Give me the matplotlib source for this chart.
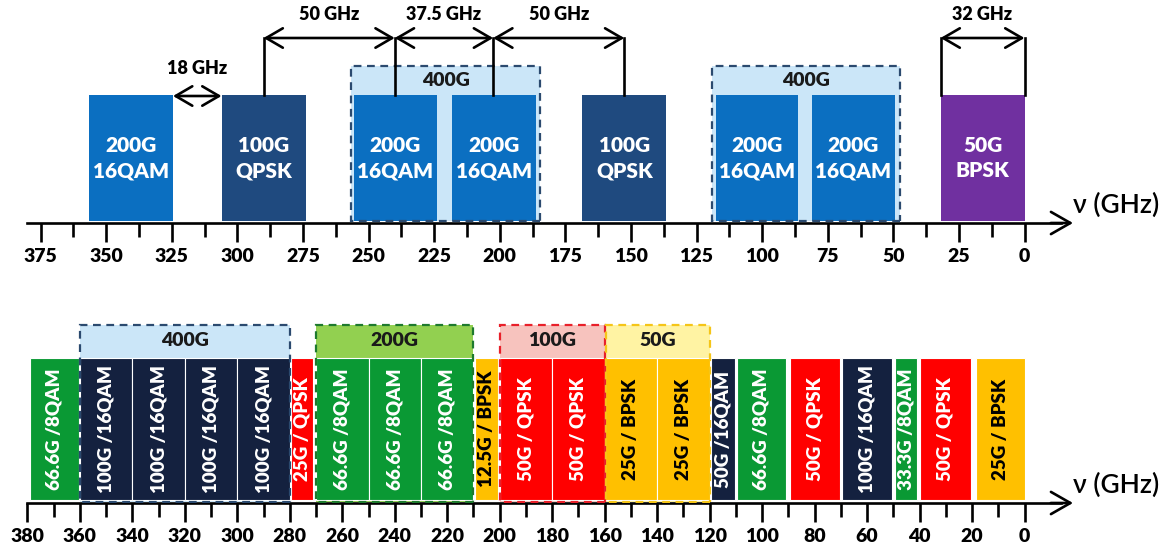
import matplotlib.pyplot as plt
from matplotlib.patches import Rectangle

plt.rcParams['font.family'] = ['Lato', 'DejaVu Sans']
plt.rcParams['font.weight'] = 'heavy'

# ---- top spectrum: fixed-grid style channels (GHz, high -> low) ----
top_labels = ['200G\n16QAM', '100G\nQPSK', '200G\n16QAM', '200G\n16QAM',
              '100G\nQPSK', '200G\n16QAM', '200G\n16QAM', '50G\nBPSK']
top_start = [356.5, 306, 255.5, 218, 168.5, 117.5, 81, 32]
top_end = [324.5, 274, 224, 186, 136.5, 86.5, 49.5, 0]
top_kind = ['blue', 'navy', 'blue', 'blue', 'navy', 'blue', 'blue', 'purple']

top_groups = ['400G', '400G']
top_group_start = [256.5, 119]
top_group_end = [184.5, 47.5]

# channel spacing annotations
span_from = [324.5, 290, 240, 202.5, 32]
span_to = [306, 240, 202.5, 152.5, 0]
span_text = ['18 GHz', '50 GHz', '37.5 GHz', '50 GHz', '32 GHz']
span_level = ['low', 'high', 'high', 'high', 'high']
riser_pos = [290, 240, 202.5, 152.5, 32, 0]

top_ticks = list(range(0, 376, 25))
top_minor = [t + 12.5 for t in range(0, 375, 25)]

# ---- bottom spectrum: flexible grid channels ----
bot_labels = ['66.6G /8QAM', '100G /16QAM', '100G /16QAM', '100G /16QAM',
              '100G /16QAM', '25G / QPSK', '66.6G /8QAM', '66.6G /8QAM',
              '66.6G /8QAM', '12.5G / BPSK', '50G / QPSK', '50G / QPSK',
              '25G / BPSK', '25G / BPSK', '50G /16QAM', '66.6G /8QAM',
              '50G / QPSK', '100G /16QAM', '33.3G /8QAM', '50G / QPSK',
              '25G / BPSK']
bot_start = [379, 360, 340, 320, 300, 279.5, 270, 250, 230, 209.5, 200, 180,
             160, 140, 119.5, 109.5, 89.5, 69.5, 49.5, 40, 18.5]
bot_end = [360.5, 340, 320, 300, 280, 271, 250, 230, 210, 200.5, 180, 160,
           140, 120, 110.5, 91, 70.5, 50.5, 41, 20.5, 0]

bot_groups = ['400G', '200G', '100G', '50G']
bot_group_start = [360, 270, 200, 159.5]
bot_group_end = [280, 210, 160, 119.7]

bot_ticks = list(range(0, 381, 20))
bot_minor = list(range(10, 380, 20))

# ---- styles ----
fill = {'blue': '#0B6FC1', 'navy': '#1F4A7F', 'purple': '#7030A0'}
mod_color = {'8QAM': '#0A9934', '16QAM': '#14213F', 'QPSK': '#FF0000',
             'BPSK': '#FFC000'}
group_style = {'400G': ('#CBE6F8', '#2B4A6F'), '200G': ('#92D050', '#1E7A2E'),
               '100G': ('#F7C3BE', '#E8202A'), '50G': ('#FFF3A3', '#F5C518')}

PX = 2.624          # pixels per GHz
ZERO = 1024.5       # pixel column of 0 GHz
W, H = 1170, 551
xlim = (ZERO / PX, (ZERO - W) / PX)

fig = plt.figure(figsize=(W / 100, H / 100), dpi=100)


def setup_axis(ax, ticks, minor, yspan):
    ax.set_xlim(*xlim)
    ax.set_ylim(0, yspan)
    for s in ['top', 'left', 'right']:
        ax.spines[s].set_visible(False)
    ax.spines['bottom'].set_linewidth(1.9)
    ax.spines['bottom'].set_bounds(380, -14)
    ax.set_yticks([])
    ax.set_xticks(ticks)
    ax.set_xticks(minor, minor=True)
    ax.set_xticklabels([f'{t:g}' for t in ticks])
    ax.tick_params(axis='x', which='major', direction='out', length=14,
                   width=1.9, labelsize=14, pad=4)
    ax.tick_params(axis='x', which='minor', direction='out', length=10,
                   width=1.9)
    ax.annotate('', xy=(-18.5, 0), xytext=(-10, 0),
                arrowprops=dict(arrowstyle='->,head_length=0.7,head_width=0.4',
                                lw=1.9, color='black', mutation_scale=20,
                                shrinkA=0, shrinkB=0))
    ax.text(-35, 18, 'ν (GHz)', fontsize=19, fontweight='semibold',
            ha='center', va='center')


# ================= top panel =================
ax1 = fig.add_axes([0, (H - 223) / H, 1, 223 / H])
setup_axis(ax1, top_ticks, top_minor, 223)

box_top, blk_top = 157, 128
for name, g0, g1 in zip(top_groups, top_group_start, top_group_end):
    face, edge = group_style[name]
    ax1.add_patch(Rectangle((g1, 2), g0 - g1, box_top - 2, facecolor=face,
                            edgecolor='none', zorder=1))
    ax1.add_patch(Rectangle((g1, 2), g0 - g1, box_top - 2, facecolor='none',
                            edgecolor=edge, lw=1.6, ls=(0, (3.5, 2.5)), zorder=4))
    ax1.text((g0 + g1) / 2, 143, name, fontsize=14, ha='center', va='center',
             color='#1a1a1a', zorder=5)

for lab, s, e, k in zip(top_labels, top_start, top_end, top_kind):
    ax1.bar((s + e) / 2, blk_top - 2.5, width=s - e, bottom=2.5,
            color=fill[k], zorder=2)
    ax1.text((s + e) / 2, 65, lab, color='white', fontsize=15, ha='center',
             va='center', linespacing=1.4, zorder=3)

for x in riser_pos:
    ax1.plot([x, x], [blk_top, 185], color='black', lw=1.9, zorder=6)

for a, b, t, lvl in zip(span_from, span_to, span_text, span_level):
    ya, yt = (185, 209) if lvl == 'high' else (127, 155)
    ax1.annotate('', xy=(b, ya), xytext=(a, ya),
                 arrowprops=dict(arrowstyle='<->,head_length=0.6,head_width=0.35',
                                 lw=1.9, color='black', mutation_scale=20,
                                 shrinkA=0, shrinkB=0), zorder=6)
    ax1.text((a + b) / 2, yt, t, fontsize=13, ha='center', va='center')

# ================= bottom panel =================
ax2 = fig.add_axes([0, (H - 503) / H, 1, 203 / H])
setup_axis(ax2, bot_ticks, bot_minor, 203)

strip_top, blk_top2 = 178, 145
for name, g0, g1 in zip(bot_groups, bot_group_start, bot_group_end):
    face, edge = group_style[name]
    ax2.add_patch(Rectangle((g1, 1.5), g0 - g1, strip_top - 1.5,
                            facecolor=face, edgecolor='none', zorder=1))
    ax2.add_patch(Rectangle((g1, 1.5), g0 - g1, strip_top - 1.5,
                            facecolor='none', edgecolor=edge, lw=1.6,
                            ls=(0, (3.5, 2.5)), zorder=4))
    ax2.text((g0 + g1) / 2, 162, name, fontsize=14, ha='center', va='center',
             color='#1a1a1a', zorder=5)

for lab, s, e in zip(bot_labels, bot_start, bot_end):
    mod = lab.split('/')[-1].strip()
    col = mod_color[mod]
    ax2.bar((s + e) / 2, blk_top2 - 3, width=s - e, bottom=3, color=col,
            edgecolor='white', linewidth=0.8, zorder=2)
    ax2.text((s + e) / 2, 74, lab, rotation=90, fontsize=13.5,
             color='black' if mod == 'BPSK' else 'white',
             ha='center', va='center', zorder=3)

fig.savefig('out.png', dpi=100)
